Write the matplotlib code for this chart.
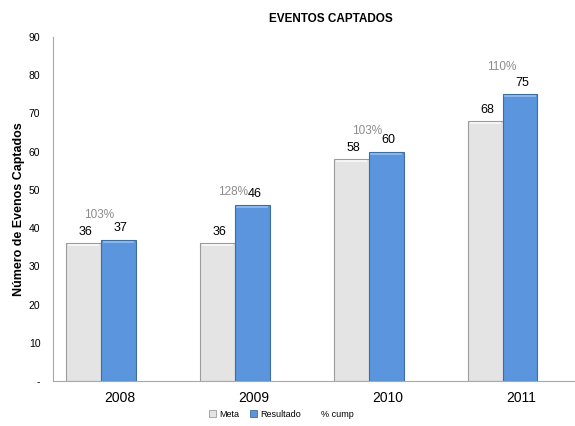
import matplotlib
matplotlib.use("Agg")
import matplotlib.pyplot as plt
from matplotlib import font_manager
from matplotlib.patches import Patch
from matplotlib.lines import Line2D
import numpy as np

#
# Les données du graphique : années, objectifs, résultats et pourcentage d'accomplissement.
#
annees = ["2008", "2009", "2010", "2011"]
meta = [36, 36, 58, 68]
resultado = [37, 46, 60, 75]
pct_cump = ["103%", "128%", "103%", "110%"]
pct_altura = [43.5, 49.5, 65.4, 82.2]

y_ticks = [0, 10, 20, 30, 40, 50, 60, 70, 80, 90]
y_labels = ["-", "10", "20", "30", "40", "50", "60", "70", "80", "90"]

GRIS = "#E4E4E4"
BLEU = "#5A95DD"

noms = {f.name for f in font_manager.fontManager.ttflist}
etroite = "Liberation Sans Narrow" if "Liberation Sans Narrow" in noms else "Liberation Sans"
plt.rcParams["font.family"] = ["Liberation Sans", "DejaVu Sans"]

fig = plt.figure(figsize=(5.75, 4.26), dpi=100)
ax = fig.add_axes([0.092, 0.1056, 0.908, 0.8075])

x = np.arange(len(annees))
largeur = 0.26

ax.bar(x - largeur / 2, meta, largeur, color=GRIS, edgecolor="#9C9C9C", linewidth=0.8, zorder=2)
ax.bar(x + largeur / 2, resultado, largeur, color=BLEU, edgecolor="#3F6E9E", linewidth=0.8, zorder=2)

# Petit reflet sur le haut des barres
for xi, v in zip(x, meta):
    ax.plot([xi - largeur + 0.02, xi - 0.02], [v - 0.5, v - 0.5], color="white", lw=1.2, alpha=0.8, zorder=3)
for xi, v in zip(x, resultado):
    ax.plot([xi + 0.02, xi + largeur - 0.02], [v - 0.5, v - 0.5], color="#9CC2F0", lw=1.2, alpha=0.9, zorder=3)

# Étiquettes des valeurs
for xi, v in zip(x, meta):
    ax.annotate(str(v), (xi - largeur / 2 + 0.015, v), xytext=(0, 4), textcoords="offset points",
                ha="center", va="bottom", fontsize=9, color="black")
for xi, v in zip(x, resultado):
    ax.annotate(str(v), (xi + largeur / 2 + 0.015, v), xytext=(0, 4), textcoords="offset points",
                ha="center", va="bottom", fontsize=9, color="black")

# Pourcentage d'accomplissement
for xi, p, h in zip(x, pct_cump, pct_altura):
    ax.text(xi - 0.01, h, p, ha="center", va="center", fontsize=8.5, color="#8C8C8C")

ax.set_xlim(-0.358, 3.54)
ax.set_ylim(0, 90)

ax.set_xticks(x + 0.14)
ax.set_xticklabels(annees, fontsize=10)
ax.set_yticks(y_ticks)
ax.set_yticklabels(y_labels, fontsize=7.5, family=etroite)
ax.tick_params(axis="both", length=0, pad=9)
ax.tick_params(axis="x", pad=7)

for cote in ["top", "right"]:
    ax.spines[cote].set_visible(False)
ax.spines["left"].set_color("#A8A8A8")
ax.spines["bottom"].set_color("#A8A8A8")

ax.set_ylabel("Número de Evenos Captados", fontsize=9, fontweight="bold", labelpad=3)
fig.text(0.575, 0.955, "EVENTOS CAPTADOS", ha="center", va="center", fontsize=8.5, fontweight="bold")

poignees = [
    Patch(facecolor=GRIS, edgecolor="#9C9C9C", linewidth=0.6),
    Patch(facecolor=BLEU, edgecolor="#3F6E9E", linewidth=0.6),
    Line2D([], [], color="none"),
]
fig.legend(poignees, ["Meta", "Resultado", "% cump"], loc="center", bbox_to_anchor=(0.49, 0.028),
           ncol=3, frameon=False, handlelength=0.8, handleheight=0.8,
           handletextpad=0.3, columnspacing=1.2, prop={"family": etroite, "size": 6.5})

fig.savefig("out.png", dpi=100)
